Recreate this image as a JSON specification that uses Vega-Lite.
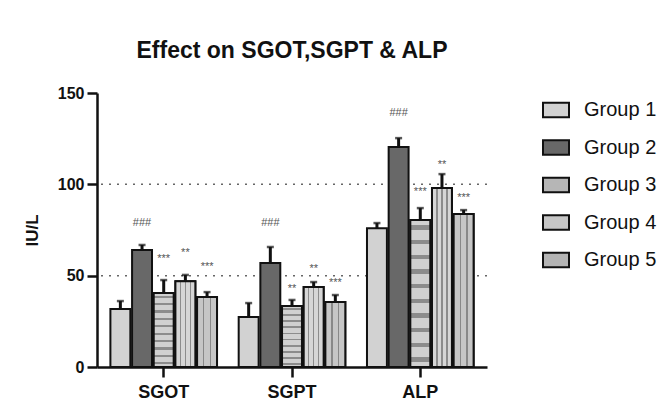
{
  "$schema": "https://vega.github.io/schema/vega-lite/v6.json",
  "autosize": {"type": "none"},
  "width": 390,
  "height": 274,
  "padding": {"left": 97, "top": 93, "right": 178, "bottom": 45},
  "background": "white",
  "title": {
    "text": "Effect on SGOT,SGPT & ALP",
    "font": "Liberation Sans",
    "fontSize": 23,
    "fontWeight": "bold",
    "color": "#111",
    "anchor": "middle",
    "baseline": "alphabetic",
    "offset": 4
  },
  "data": {
    "values": [
      {"param": "SGOT", "group": "Group 1", "value": 31.7, "upper": 36.1, "mark": "", "markY": 0},
      {"param": "SGOT", "group": "Group 2", "value": 64, "upper": 66.8, "mark": "###", "markY": 78.8},
      {"param": "SGOT", "group": "Group 3", "value": 40.5, "upper": 47.6, "mark": "***", "markY": 59},
      {"param": "SGOT", "group": "Group 4", "value": 47, "upper": 50.4, "mark": "**", "markY": 62.4},
      {"param": "SGOT", "group": "Group 5", "value": 38.3, "upper": 41, "mark": "***", "markY": 55},
      {"param": "SGPT", "group": "Group 1", "value": 27.4, "upper": 35, "mark": "", "markY": 0},
      {"param": "SGPT", "group": "Group 2", "value": 57, "upper": 65.7, "mark": "###", "markY": 78.8},
      {"param": "SGPT", "group": "Group 3", "value": 33.4, "upper": 36.7, "mark": "**", "markY": 42.7},
      {"param": "SGPT", "group": "Group 4", "value": 43.8, "upper": 46.5, "mark": "**", "markY": 53.6},
      {"param": "SGPT", "group": "Group 5", "value": 35.6, "upper": 39.4, "mark": "***", "markY": 46},
      {"param": "ALP", "group": "Group 1", "value": 76, "upper": 78.8, "mark": "", "markY": 0},
      {"param": "ALP", "group": "Group 2", "value": 120.4, "upper": 125.3, "mark": "###", "markY": 139},
      {"param": "ALP", "group": "Group 3", "value": 80.5, "upper": 87, "mark": "***", "markY": 96},
      {"param": "ALP", "group": "Group 4", "value": 98, "upper": 105.6, "mark": "**", "markY": 110.5},
      {"param": "ALP", "group": "Group 5", "value": 83.7, "upper": 85.9, "mark": "***", "markY": 92.5}
    ]
  },
  "encoding": {
    "x": {
      "field": "param",
      "type": "nominal",
      "sort": ["SGOT", "SGPT", "ALP"],
      "scale": {"paddingInner": 0, "paddingOuter": 0.02},
      "axis": {
        "title": null,
        "labelAngle": 0,
        "labelFont": "Liberation Sans",
        "labelFontSize": 18,
        "labelFontWeight": "bold",
        "labelColor": "#111",
        "labelPadding": 6,
        "domainColor": "#111",
        "domainWidth": 2.5,
        "tickColor": "#111",
        "tickWidth": 2.5,
        "tickSize": 10
      }
    },
    "xOffset": {
      "field": "group",
      "type": "nominal",
      "scale": {"paddingInner": 0.08, "paddingOuter": 0.5}
    }
  },
  "layer": [
    {
      "data": {"values": [{"g": 50}, {"g": 100}]},
      "mark": {"type": "rule", "color": "#666", "strokeDash": [2, 6], "strokeWidth": 1.5},
      "encoding": {"y": {"field": "g", "type": "quantitative", "scale": {"domain": [0, 150], "nice": false}}, "x": null, "xOffset": null}
    },
    {
      "mark": {"type": "bar", "stroke": "#111", "strokeWidth": 2},
      "encoding": {
        "y": {
          "field": "value",
          "type": "quantitative",
          "scale": {"domain": [0, 150], "nice": false},
          "axis": {
            "title": "IU/L",
            "values": [0, 50, 100, 150],
            "grid": false,
            "titleFont": "Liberation Sans",
            "titleFontSize": 17,
            "titleFontWeight": "bold",
            "titleColor": "#111",
            "titlePadding": 16,
            "labelFont": "Liberation Sans",
            "labelFontSize": 16,
            "labelFontWeight": "bold",
            "labelColor": "#111",
            "labelPadding": 3,
            "domainColor": "#111",
            "domainWidth": 2.5,
            "tickColor": "#111",
            "tickWidth": 2.5,
            "tickSize": 10
          }
        },
        "color": {
          "field": "group",
          "type": "nominal",
          "scale": {"range": ["#d2d2d2", "#686868", "#b6b6b6", "#c6c6c6", "#b4b4b4"]},
          "legend": {
            "title": null,
            "orient": "none",
            "legendX": 445,
            "legendY": 3,
            "symbolType": "M-1,-0.55H1V0.55H-1Z",
            "symbolSize": 676,
            "symbolStrokeColor": "#111",
            "symbolStrokeWidth": 2,
            "rowPadding": 11.5,
            "labelFont": "Liberation Sans",
            "labelFontSize": 20,
            "labelColor": "#111",
            "labelOffset": 14
          }
        }
      }
    },
    {
      "transform": [{"filter": "datum.group === 'Group 3'"}],
      "mark": {"type": "bar", "stroke": "#111", "strokeWidth": 2, "fill": {"gradient": "linear", "x1": 0, "y1": 0, "x2": 0, "y2": 1, "stops": [
        {"offset": 0, "color": "#d0d0d0"},
        {"offset": 0.035, "color": "#d0d0d0"}, {"offset": 0.035, "color": "#8c8c8c"}, {"offset": 0.065, "color": "#8c8c8c"}, {"offset": 0.065, "color": "#d0d0d0"},
        {"offset": 0.135, "color": "#d0d0d0"}, {"offset": 0.135, "color": "#8c8c8c"}, {"offset": 0.165, "color": "#8c8c8c"}, {"offset": 0.165, "color": "#d0d0d0"},
        {"offset": 0.235, "color": "#d0d0d0"}, {"offset": 0.235, "color": "#8c8c8c"}, {"offset": 0.265, "color": "#8c8c8c"}, {"offset": 0.265, "color": "#d0d0d0"},
        {"offset": 0.335, "color": "#d0d0d0"}, {"offset": 0.335, "color": "#8c8c8c"}, {"offset": 0.365, "color": "#8c8c8c"}, {"offset": 0.365, "color": "#d0d0d0"},
        {"offset": 0.435, "color": "#d0d0d0"}, {"offset": 0.435, "color": "#8c8c8c"}, {"offset": 0.465, "color": "#8c8c8c"}, {"offset": 0.465, "color": "#d0d0d0"},
        {"offset": 0.535, "color": "#d0d0d0"}, {"offset": 0.535, "color": "#8c8c8c"}, {"offset": 0.565, "color": "#8c8c8c"}, {"offset": 0.565, "color": "#d0d0d0"},
        {"offset": 0.635, "color": "#d0d0d0"}, {"offset": 0.635, "color": "#8c8c8c"}, {"offset": 0.665, "color": "#8c8c8c"}, {"offset": 0.665, "color": "#d0d0d0"},
        {"offset": 0.735, "color": "#d0d0d0"}, {"offset": 0.735, "color": "#8c8c8c"}, {"offset": 0.765, "color": "#8c8c8c"}, {"offset": 0.765, "color": "#d0d0d0"},
        {"offset": 0.835, "color": "#d0d0d0"}, {"offset": 0.835, "color": "#8c8c8c"}, {"offset": 0.865, "color": "#8c8c8c"}, {"offset": 0.865, "color": "#d0d0d0"},
        {"offset": 0.935, "color": "#d0d0d0"}, {"offset": 0.935, "color": "#8c8c8c"}, {"offset": 0.965, "color": "#8c8c8c"}, {"offset": 0.965, "color": "#d0d0d0"},
        {"offset": 1, "color": "#d0d0d0"}
      ]}},
      "encoding": {"y": {"field": "value", "type": "quantitative"}}
    },
    {
      "transform": [{"filter": "datum.group === 'Group 4'"}],
      "mark": {"type": "bar", "stroke": "#111", "strokeWidth": 2, "fill": {"gradient": "linear", "x1": 0, "y1": 0, "x2": 1, "y2": 0, "stops": [
        {"offset": 0, "color": "#d6d6d6"},
        {"offset": 0.215, "color": "#d6d6d6"}, {"offset": 0.215, "color": "#8c8c8c"}, {"offset": 0.285, "color": "#8c8c8c"}, {"offset": 0.285, "color": "#d6d6d6"},
        {"offset": 0.465, "color": "#d6d6d6"}, {"offset": 0.465, "color": "#8c8c8c"}, {"offset": 0.535, "color": "#8c8c8c"}, {"offset": 0.535, "color": "#d6d6d6"},
        {"offset": 0.715, "color": "#d6d6d6"}, {"offset": 0.715, "color": "#8c8c8c"}, {"offset": 0.785, "color": "#8c8c8c"}, {"offset": 0.785, "color": "#d6d6d6"},
        {"offset": 1, "color": "#d6d6d6"}
      ]}},
      "encoding": {"y": {"field": "value", "type": "quantitative"}}
    },
    {
      "transform": [{"filter": "datum.group === 'Group 5'"}],
      "mark": {"type": "bar", "stroke": "#111", "strokeWidth": 2, "fill": {"gradient": "linear", "x1": 0, "y1": 0, "x2": 1, "y2": 0, "stops": [
        {"offset": 0, "color": "#c6c6c6"},
        {"offset": 0.295, "color": "#c6c6c6"}, {"offset": 0.295, "color": "#888888"}, {"offset": 0.365, "color": "#888888"}, {"offset": 0.365, "color": "#c6c6c6"},
        {"offset": 0.635, "color": "#c6c6c6"}, {"offset": 0.635, "color": "#888888"}, {"offset": 0.705, "color": "#888888"}, {"offset": 0.705, "color": "#c6c6c6"},
        {"offset": 1, "color": "#c6c6c6"}
      ]}},
      "encoding": {"y": {"field": "value", "type": "quantitative"}}
    },
    {
      "mark": {"type": "rule", "color": "#111", "strokeWidth": 3},
      "encoding": {"y": {"field": "value", "type": "quantitative"}, "y2": {"field": "upper"}}
    },
    {
      "mark": {"type": "tick", "color": "#111", "thickness": 2.5, "size": 7},
      "encoding": {"y": {"field": "upper", "type": "quantitative"}}
    },
    {
      "mark": {"type": "text", "font": "Liberation Sans", "fontSize": 11, "color": "#555", "baseline": "middle"},
      "encoding": {"y": {"field": "markY", "type": "quantitative"}, "text": {"field": "mark"}}
    }
  ],
  "config": {"view": {"stroke": null}}
}
